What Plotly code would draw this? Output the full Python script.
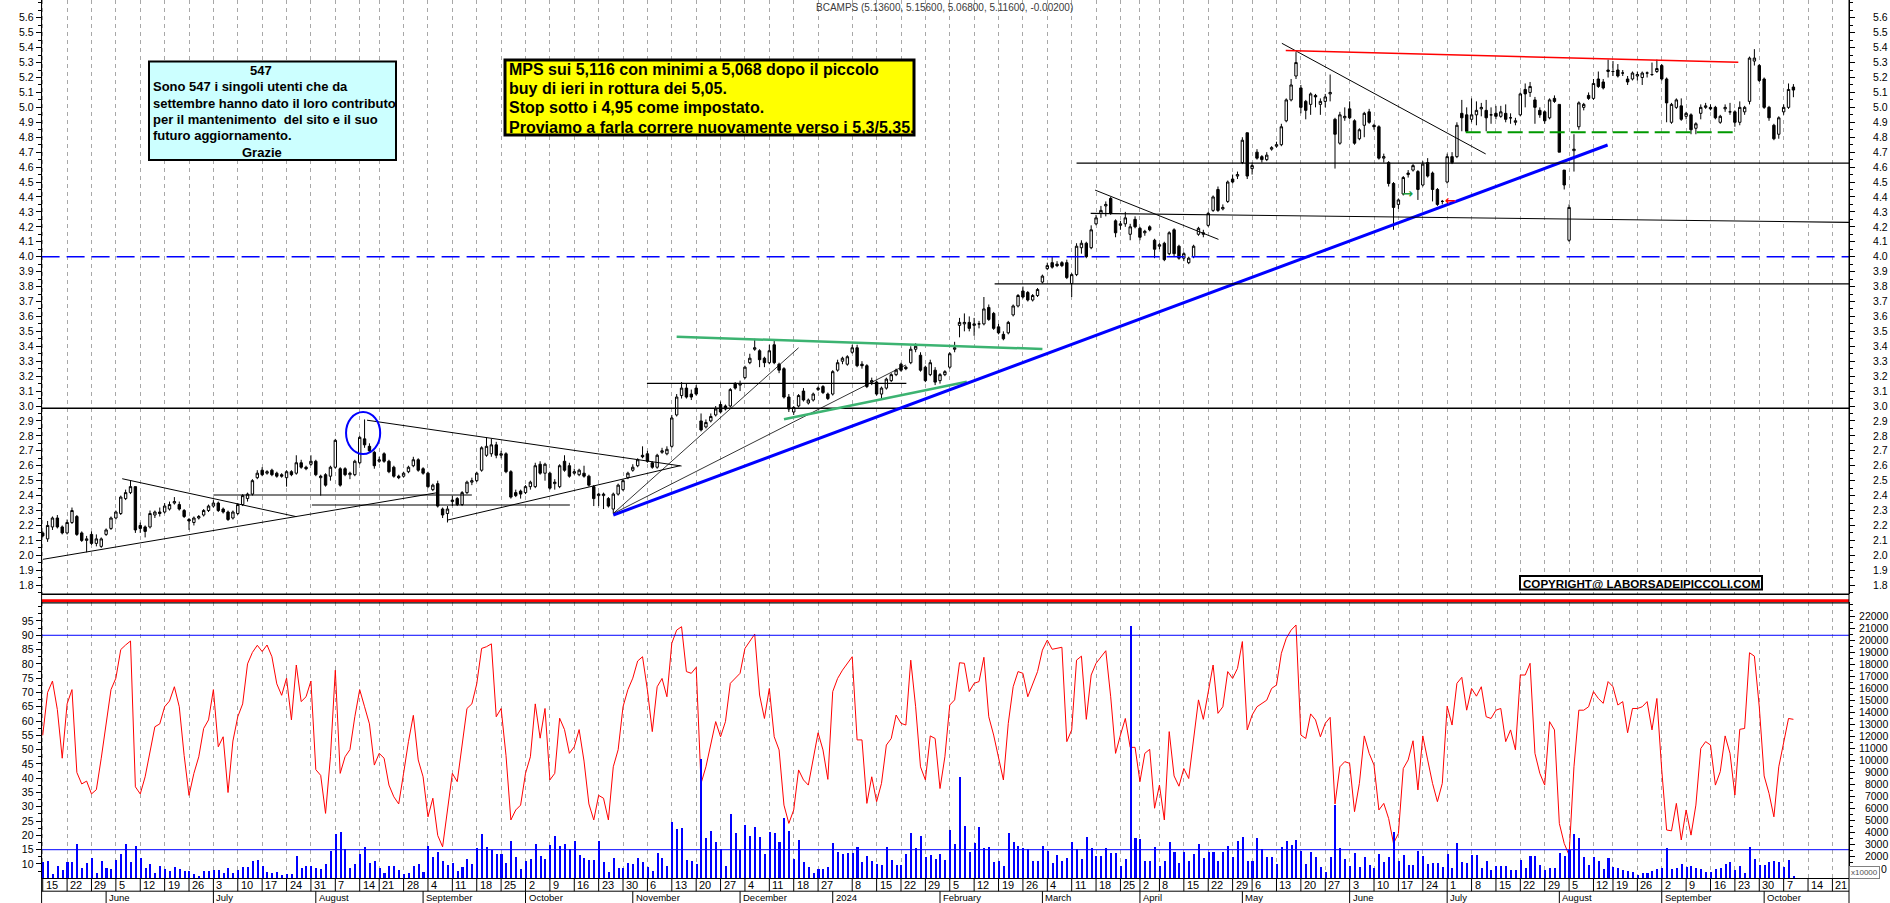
import plotly.graph_objects as go
import pandas as pd

W, H = 1890, 903

# ----------------------------------------------------------------- data
HOLIDAYS = ["2023-08-15", "2023-12-25", "2023-12-26", "2024-01-01",
            "2024-03-29", "2024-04-01", "2024-05-01", "2024-08-15"]

OPEN = [
 2.15, 2.11, 2.19, 2.25, 2.19, 2.15, 2.22, 2.26, 2.15, 2.10,
 2.14, 2.08, 2.06, 2.14, 2.18, 2.25, 2.28, 2.38, 2.42, 2.46,
 2.20, 2.19, 2.19, 2.27, 2.29, 2.29, 2.31, 2.35, 2.34, 2.30,
 2.24, 2.22, 2.25, 2.27, 2.30, 2.33, 2.35, 2.31, 2.29, 2.25,
 2.28, 2.34, 2.38, 2.41, 2.52, 2.57, 2.55, 2.57, 2.55, 2.54,
 2.52, 2.56, 2.55, 2.62, 2.59, 2.61, 2.63, 2.52, 2.54, 2.53,
 2.59, 2.58, 2.58, 2.54, 2.54, 2.62, 2.78, 2.73, 2.69, 2.63,
 2.68, 2.63, 2.59, 2.53, 2.53, 2.56, 2.60, 2.64, 2.58, 2.55,
 2.44, 2.48, 2.31, 2.28, 2.36, 2.38, 2.34, 2.42, 2.49, 2.50,
 2.57, 2.67, 2.68, 2.74, 2.67, 2.68, 2.56, 2.42, 2.43, 2.42,
 2.46, 2.46, 2.61, 2.55, 2.55, 2.48, 2.46, 2.63, 2.60, 2.55,
 2.54, 2.55, 2.53, 2.46, 2.40, 2.40, 2.38, 2.31, 2.41, 2.44,
 2.52, 2.57, 2.60, 2.67, 2.68, 2.62, 2.59, 2.69, 2.68, 2.73,
 2.94, 3.07, 3.12, 3.08, 3.12, 2.90, 2.86, 2.90, 2.94, 3.01,
 3.00, 3.00, 3.15, 3.14, 3.19, 3.29, 3.38, 3.37, 3.32, 3.29,
 3.41, 3.28, 3.25, 3.06, 2.96, 3.00, 3.10, 3.02, 3.04, 3.11,
 3.13, 3.08, 3.08, 3.24, 3.30, 3.28, 3.36, 3.39, 3.28, 3.27,
 3.16, 3.16, 3.08, 3.12, 3.17, 3.21, 3.28, 3.26, 3.29, 3.38,
 3.34, 3.26, 3.21, 3.24, 3.17, 3.21, 3.26, 3.38, 3.54, 3.55,
 3.56, 3.54, 3.55, 3.55, 3.66, 3.62, 3.53, 3.48, 3.49, 3.61,
 3.67, 3.77, 3.76, 3.71, 3.74, 3.83, 3.92, 3.96, 3.95, 3.96,
 3.96, 3.82, 3.88, 4.06, 4.09, 4.06, 4.22, 4.29, 4.34, 4.39,
 4.24, 4.21, 4.22, 4.15, 4.25, 4.19, 4.16, 4.20, 4.11, 4.07,
 4.09, 4.02, 4.18, 4.07, 3.99, 3.96, 4.00, 4.15, 4.15, 4.21,
 4.31, 4.45, 4.32, 4.37, 4.52, 4.54, 4.63, 4.83, 4.59, 4.70,
 4.67, 4.65, 4.72, 4.74, 4.75, 4.91, 5.05, 5.21, 5.13, 5.04,
 5.02, 5.08, 5.02, 5.04, 5.09, 4.92, 4.76, 4.93, 4.99, 4.91,
 4.79, 4.88, 4.97, 4.88, 4.87, 4.66, 4.63, 4.49, 4.35, 4.42,
 4.55, 4.58, 4.57, 4.48, 4.63, 4.56, 4.45, 4.37, 4.50, 4.67,
 4.67, 4.96, 4.95, 4.92, 4.95, 4.99, 4.98, 4.95, 4.96, 4.94,
 4.96, 4.93, 4.90, 4.95, 5.12, 5.10, 5.05, 4.98, 4.97, 4.93,
 5.06, 5.02, 4.58, 4.11, 4.71, 4.87, 5.00, 5.08, 5.06, 5.19,
 5.17, 5.24, 5.24, 5.25, 5.23, 5.19, 5.19, 5.21, 5.20, 5.23,
 5.22, 5.24, 5.28, 5.19, 4.90, 5.00, 5.01, 4.94, 4.95, 4.86,
 4.96, 5.00, 5.00, 5.00, 4.90, 4.99, 4.97, 4.97, 4.90, 4.97,
 5.04, 5.31, 5.28, 5.19, 5.00, 4.88, 4.82, 4.97, 5.00, 5.136,
]

HIGH = [
 2.16, 2.23, 2.26, 2.27, 2.20, 2.24, 2.32, 2.27, 2.16, 2.13,
 2.16, 2.14, 2.12, 2.18, 2.26, 2.30, 2.40, 2.44, 2.50, 2.46,
 2.22, 2.20, 2.30, 2.30, 2.32, 2.35, 2.36, 2.39, 2.36, 2.31,
 2.25, 2.26, 2.27, 2.31, 2.34, 2.37, 2.36, 2.32, 2.30, 2.30,
 2.35, 2.41, 2.42, 2.51, 2.57, 2.59, 2.57, 2.58, 2.56, 2.55,
 2.57, 2.57, 2.67, 2.64, 2.60, 2.67, 2.64, 2.54, 2.55, 2.60,
 2.78, 2.59, 2.59, 2.56, 2.64, 2.80, 2.91, 2.75, 2.70, 2.66,
 2.69, 2.64, 2.60, 2.54, 2.56, 2.60, 2.66, 2.65, 2.59, 2.56,
 2.48, 2.50, 2.32, 2.33, 2.40, 2.39, 2.43, 2.50, 2.52, 2.56,
 2.73, 2.79, 2.78, 2.76, 2.70, 2.69, 2.57, 2.44, 2.44, 2.47,
 2.50, 2.62, 2.63, 2.62, 2.56, 2.51, 2.61, 2.67, 2.62, 2.58,
 2.58, 2.60, 2.54, 2.47, 2.42, 2.42, 2.39, 2.42, 2.48, 2.51,
 2.56, 2.61, 2.65, 2.73, 2.70, 2.63, 2.68, 2.72, 2.73, 2.94,
 3.08, 3.16, 3.15, 3.11, 3.14, 2.95, 2.91, 2.95, 3.00, 3.03,
 3.01, 3.12, 3.16, 3.17, 3.27, 3.35, 3.45, 3.38, 3.33, 3.41,
 3.44, 3.29, 3.26, 3.08, 3.00, 3.08, 3.12, 3.05, 3.09, 3.13,
 3.14, 3.09, 3.24, 3.31, 3.33, 3.34, 3.41, 3.41, 3.30, 3.28,
 3.19, 3.17, 3.13, 3.19, 3.22, 3.25, 3.29, 3.27, 3.40, 3.42,
 3.36, 3.27, 3.31, 3.26, 3.22, 3.24, 3.36, 3.43, 3.59, 3.62,
 3.60, 3.59, 3.57, 3.73, 3.68, 3.63, 3.55, 3.50, 3.57, 3.68,
 3.75, 3.80, 3.77, 3.75, 3.79, 3.88, 3.96, 4.00, 3.97, 3.97,
 3.98, 3.89, 4.09, 4.11, 4.10, 4.21, 4.28, 4.34, 4.37, 4.40,
 4.25, 4.24, 4.30, 4.22, 4.27, 4.20, 4.18, 4.21, 4.12, 4.09,
 4.10, 4.17, 4.19, 4.08, 4.03, 4.00, 4.08, 4.20, 4.18, 4.30,
 4.41, 4.47, 4.35, 4.51, 4.55, 4.57, 4.80, 4.83, 4.63, 4.72,
 4.68, 4.70, 4.74, 4.77, 4.89, 5.06, 5.19, 5.37, 5.15, 5.05,
 5.10, 5.09, 5.06, 5.09, 5.22, 4.93, 4.97, 5.00, 5.04, 4.92,
 4.86, 4.97, 4.99, 4.89, 4.88, 4.69, 4.64, 4.50, 4.39, 4.54,
 4.58, 4.62, 4.58, 4.64, 4.66, 4.57, 4.46, 4.38, 4.69, 4.70,
 4.90, 5.05, 5.00, 5.06, 5.04, 5.03, 5.05, 5.00, 5.01, 5.01,
 5.02, 4.96, 4.93, 5.10, 5.16, 5.17, 5.07, 5.00, 4.98, 5.06,
 5.08, 5.02, 4.58, 4.35, 4.82, 5.04, 5.03, 5.10, 5.19, 5.24,
 5.19, 5.32, 5.31, 5.29, 5.25, 5.21, 5.24, 5.24, 5.24, 5.24,
 5.30, 5.32, 5.29, 5.20, 5.03, 5.06, 5.06, 4.97, 4.96, 4.90,
 5.02, 5.03, 5.02, 5.01, 4.95, 5.02, 5.03, 4.98, 5.04, 5.01,
 5.34, 5.39, 5.29, 5.20, 5.01, 4.89, 4.94, 5.02, 5.16, 5.156,
]

LOW = [
 2.12, 2.09, 2.17, 2.18, 2.14, 2.14, 2.21, 2.13, 2.09, 2.02,
 2.07, 2.06, 2.05, 2.13, 2.17, 2.24, 2.27, 2.37, 2.41, 2.15,
 2.15, 2.12, 2.18, 2.25, 2.26, 2.28, 2.30, 2.34, 2.30, 2.25,
 2.17, 2.20, 2.24, 2.26, 2.29, 2.32, 2.29, 2.28, 2.23, 2.24,
 2.27, 2.33, 2.36, 2.40, 2.51, 2.53, 2.54, 2.53, 2.52, 2.52,
 2.46, 2.53, 2.54, 2.58, 2.57, 2.60, 2.53, 2.40, 2.46, 2.50,
 2.58, 2.46, 2.53, 2.51, 2.53, 2.61, 2.72, 2.69, 2.58, 2.62,
 2.62, 2.55, 2.52, 2.51, 2.52, 2.55, 2.59, 2.56, 2.54, 2.45,
 2.43, 2.32, 2.25, 2.22, 2.33, 2.33, 2.33, 2.41, 2.47, 2.49,
 2.56, 2.66, 2.66, 2.65, 2.65, 2.55, 2.38, 2.39, 2.38, 2.41,
 2.44, 2.45, 2.54, 2.50, 2.44, 2.44, 2.45, 2.56, 2.52, 2.54,
 2.53, 2.52, 2.46, 2.33, 2.33, 2.31, 2.32, 2.28, 2.40, 2.43,
 2.51, 2.56, 2.59, 2.65, 2.62, 2.58, 2.58, 2.68, 2.67, 2.72,
 2.93, 3.05, 3.05, 3.04, 3.07, 2.83, 2.85, 2.89, 2.93, 2.95,
 2.97, 2.99, 3.11, 3.10, 3.18, 3.28, 3.37, 3.26, 3.26, 3.28,
 3.28, 3.22, 3.05, 2.96, 2.94, 2.99, 3.03, 3.01, 3.03, 3.10,
 3.08, 3.04, 3.07, 3.23, 3.28, 3.27, 3.35, 3.26, 3.25, 3.12,
 3.14, 3.07, 3.05, 3.11, 3.16, 3.20, 3.23, 3.24, 3.28, 3.36,
 3.23, 3.16, 3.20, 3.14, 3.15, 3.20, 3.25, 3.36, 3.46, 3.50,
 3.50, 3.47, 3.52, 3.54, 3.57, 3.51, 3.48, 3.44, 3.48, 3.60,
 3.66, 3.72, 3.70, 3.70, 3.73, 3.82, 3.91, 3.92, 3.93, 3.93,
 3.85, 3.73, 3.87, 4.02, 3.99, 4.05, 4.21, 4.26, 4.27, 4.28,
 4.13, 4.18, 4.20, 4.11, 4.19, 4.11, 4.14, 4.17, 3.99, 4.05,
 3.97, 4.01, 4.00, 3.98, 3.97, 3.95, 3.99, 4.14, 4.13, 4.20,
 4.30, 4.30, 4.31, 4.36, 4.49, 4.52, 4.62, 4.52, 4.55, 4.65,
 4.63, 4.64, 4.71, 4.73, 4.74, 4.90, 5.04, 5.19, 4.96, 4.92,
 4.95, 5.00, 4.95, 5.00, 5.04, 4.59, 4.75, 4.91, 4.92, 4.75,
 4.78, 4.80, 4.89, 4.85, 4.65, 4.63, 4.47, 4.18, 4.32, 4.41,
 4.53, 4.57, 4.38, 4.47, 4.53, 4.37, 4.34, 4.35, 4.49, 4.62,
 4.66, 4.84, 4.83, 4.90, 4.88, 4.94, 4.84, 4.89, 4.92, 4.93,
 4.90, 4.89, 4.88, 4.94, 5.00, 5.07, 4.89, 4.93, 4.89, 4.92,
 5.03, 4.70, 4.45, 4.10, 4.57, 4.85, 4.98, 5.05, 5.05, 5.13,
 5.12, 5.20, 5.21, 5.20, 5.21, 5.15, 5.18, 5.18, 5.15, 5.20,
 5.21, 5.23, 5.18, 4.90, 4.89, 4.99, 4.91, 4.92, 4.82, 4.82,
 4.92, 4.99, 4.98, 4.92, 4.89, 4.97, 4.95, 4.87, 4.88, 4.95,
 5.02, 5.28, 5.17, 4.99, 4.91, 4.78, 4.79, 4.95, 4.99, 5.068,
]

CLOSE = [
 2.13, 2.20, 2.25, 2.19, 2.15, 2.22, 2.30, 2.14, 2.10, 2.11,
 2.08, 2.11, 2.11, 2.17, 2.25, 2.29, 2.39, 2.42, 2.46, 2.17,
 2.18, 2.16, 2.28, 2.29, 2.28, 2.33, 2.34, 2.36, 2.31, 2.26,
 2.23, 2.25, 2.26, 2.30, 2.33, 2.35, 2.30, 2.29, 2.24, 2.29,
 2.34, 2.40, 2.41, 2.50, 2.55, 2.54, 2.56, 2.54, 2.53, 2.53,
 2.56, 2.54, 2.62, 2.59, 2.58, 2.63, 2.54, 2.53, 2.47, 2.59,
 2.77, 2.47, 2.54, 2.55, 2.63, 2.79, 2.74, 2.70, 2.60, 2.64,
 2.63, 2.56, 2.53, 2.52, 2.55, 2.59, 2.64, 2.57, 2.55, 2.46,
 2.47, 2.33, 2.27, 2.31, 2.37, 2.34, 2.42, 2.49, 2.50, 2.55,
 2.72, 2.73, 2.74, 2.67, 2.68, 2.56, 2.39, 2.40, 2.41, 2.46,
 2.49, 2.60, 2.55, 2.61, 2.45, 2.49, 2.60, 2.57, 2.53, 2.56,
 2.57, 2.53, 2.47, 2.38, 2.41, 2.41, 2.33, 2.41, 2.47, 2.50,
 2.55, 2.59, 2.64, 2.66, 2.63, 2.59, 2.67, 2.70, 2.71, 2.92,
 3.06, 3.12, 3.06, 3.06, 3.08, 2.84, 2.89, 2.93, 2.98, 2.96,
 2.98, 3.11, 3.12, 3.15, 3.26, 3.32, 3.39, 3.31, 3.29, 3.37,
 3.29, 3.24, 3.06, 2.98, 2.99, 3.07, 3.04, 3.04, 3.08, 3.12,
 3.09, 3.05, 3.23, 3.29, 3.32, 3.33, 3.39, 3.27, 3.27, 3.13,
 3.17, 3.08, 3.12, 3.18, 3.21, 3.24, 3.24, 3.25, 3.38, 3.40,
 3.24, 3.17, 3.29, 3.16, 3.21, 3.23, 3.35, 3.39, 3.56, 3.56,
 3.52, 3.55, 3.55, 3.65, 3.58, 3.52, 3.49, 3.45, 3.56, 3.67,
 3.74, 3.73, 3.71, 3.74, 3.78, 3.87, 3.94, 3.93, 3.94, 3.94,
 3.86, 3.88, 4.07, 4.09, 4.00, 4.18, 4.26, 4.31, 4.35, 4.29,
 4.16, 4.22, 4.26, 4.20, 4.20, 4.13, 4.17, 4.18, 4.05, 4.08,
 3.98, 4.16, 4.02, 3.99, 4.02, 3.99, 4.07, 4.19, 4.16, 4.29,
 4.40, 4.31, 4.33, 4.50, 4.50, 4.55, 4.78, 4.54, 4.61, 4.66,
 4.65, 4.68, 4.73, 4.75, 4.87, 5.05, 5.15, 5.30, 5.00, 4.98,
 5.09, 5.07, 5.04, 5.07, 5.10, 4.82, 4.95, 4.94, 4.93, 4.76,
 4.85, 4.96, 4.90, 4.87, 4.66, 4.67, 4.49, 4.33, 4.38, 4.53,
 4.56, 4.61, 4.45, 4.62, 4.54, 4.45, 4.35, 4.37, 4.67, 4.63,
 4.88, 4.93, 4.84, 4.95, 4.98, 5.00, 4.93, 4.95, 4.94, 4.97,
 4.92, 4.93, 4.91, 5.09, 5.09, 5.14, 5.00, 4.95, 4.91, 5.05,
 5.04, 4.70, 4.48, 4.33, 4.72, 5.03, 5.02, 5.06, 5.16, 5.14,
 5.13, 5.25, 5.24, 5.21, 5.23, 5.17, 5.23, 5.22, 5.23, 5.23,
 5.22, 5.26, 5.19, 5.03, 5.02, 5.05, 4.92, 4.96, 4.85, 4.89,
 5.00, 5.01, 4.99, 4.93, 4.94, 5.00, 4.97, 4.90, 5.00, 5.00,
 5.33, 5.33, 5.18, 5.00, 4.93, 4.79, 4.93, 5.00, 5.12, 5.116,
]

OSC = [
 55, 70, 74, 64, 47, 66, 71, 42, 38, 39,
 34.5, 36, 47, 59, 71, 75, 85, 86.6, 88, 37,
 34.5, 40.5, 50, 58, 59, 65, 67, 72, 65, 48,
 34, 41.7, 47.5, 57.4, 60.4, 71, 51, 54.5, 35, 53,
 61.5, 66, 80, 84, 86.5, 84.3, 86.6, 82.5, 73, 69,
 75, 60.4, 79.6, 66.8, 68.5, 74, 43, 41, 27.7, 47.5,
 77.8, 41.7, 47.5, 50, 61.5, 71, 65, 59, 44.6, 48.7,
 47, 37.6, 33.5, 31, 41.7, 52.8, 62, 46.4, 40.5, 26.5,
 33, 20, 16, 29, 41.7, 38.8, 52, 64.4, 66, 73,
 85.4, 86, 87, 61.5, 64.4, 48, 25.4, 28.9, 30.6, 41.7,
 47.5, 66, 54, 64.4, 39.4, 41.7, 61, 57, 48.7, 51,
 57, 46, 31, 25.4, 34, 33, 25.4, 44, 50, 65,
 71, 75, 81, 82.5, 70.9, 56.3, 72, 74.9, 68.5, 87.2,
 91.8, 93, 77.3, 76.7, 78.8, 38.2, 44, 51.6, 59.8, 54.5,
 59.8, 73.2, 74.9, 76.7, 85.4, 87.8, 90.4, 69.1, 60.9, 71.4,
 54.5, 49.9, 30.6, 24.2, 28.9, 42.9, 39.4, 37.6, 46.4, 55.9,
 49.9, 39.6, 70.3, 74.9, 77.8, 80, 82.5, 53.4, 53.4, 31.2,
 40.5, 31.8, 38.2, 51.6, 53.9, 62.1, 59.2, 58.6, 81.3, 65,
 44, 39.4, 54.8, 53.9, 36.4, 47.5, 65.6, 67.4, 80.4, 80.2,
 70.3, 73.2, 73.8, 82.3, 61.5, 55.1, 47.5, 39.4, 59.2, 72,
 77.3, 76.7, 68.5, 73.2, 77.3, 84.8, 88.3, 85.1, 85.4, 85.8,
 52.8, 56.9, 81.3, 82.7, 60.6, 76.1, 80.2, 82.5, 84.6, 68.5,
 48.7, 55.1, 60.9, 50.8, 50.8, 38.8, 48.7, 50.1, 29.5, 37.6,
 25.4, 56.3, 40.8, 37.2, 43.4, 39.9, 52.8, 67.4, 60.6, 69.7,
 79.6, 62.7, 65, 77.3, 74.9, 78.4, 87.8, 56.9, 62.1, 65,
 66, 67.3, 71.4, 72.6, 83.7, 88.9, 91.8, 93.6, 55.1, 53.9,
 62.5, 60.4, 54.5, 59.2, 61.3, 31, 44, 45.8, 45.2, 28.3,
 38.2, 54.8, 48.7, 44.6, 28.9, 31.2, 25.9, 17.2, 20.7, 43.4,
 46.4, 53.1, 35.9, 54.8, 46.4, 38.2, 31.8, 38.2, 65.2, 58.6,
 73.2, 75.3, 63.8, 71.4, 68.7, 72, 61.5, 60.9, 63.8, 64.4,
 52.8, 56.9, 49.9, 76.1, 76.1, 80.2, 48.7, 41.7, 37.6, 59.8,
 56.9, 24.2, 17.2, 13.1, 44, 63.8, 63.8, 65, 70.3, 67.9,
 66.2, 73.8, 72, 65.6, 66.8, 55.9, 64.4, 64.4, 65, 66.8,
 56.9, 67.9, 42.9, 21.9, 21.6, 31.2, 18.4, 28.9, 20.1, 30.6,
 50.4, 52.8, 51.6, 37.6, 42.3, 54.8, 48.7, 34.1, 57.1, 57.4,
 83.9, 82.7, 65, 40.8, 34.7, 26.5, 44, 52.2, 60.9, 60.6,
]

VOLUME = [
 1500, 1611, 500, 1167, 833, 1528, 1472, 2972, 1028, 1444,
 1806, 611, 1583, 972, 944, 1667, 2139, 3000, 1528, 2833,
 1861, 1028, 1306, 611, 1167, 889, 750, 1111, 917, 750,
 750, 472, 361, 750, 750, 833, 833, 611, 972, 611,
 833, 1111, 1111, 1611, 1667, 1167, 694, 611, 694, 417,
 472, 472, 2000, 1028, 1167, 1167, 1028, 889, 1306, 2444,
 3806, 4028, 2556, 1028, 1333, 2167, 2722, 1389, 1611, 1028,
 611, 1167, 1167, 833, 500, 611, 1167, 1333, 694, 2861,
 1944, 2361, 1583, 1250, 1389, 750, 1056, 1722, 1306, 2639,
 3806, 2722, 2500, 2139, 2139, 1389, 3250, 1889, 917, 1583,
 1722, 2972, 2000, 1722, 2889, 3694, 2833, 2972, 2556, 3250,
 2083, 1861, 1667, 1667, 3250, 1528, 639, 1806, 1028, 1028,
 1389, 1306, 1806, 1472, 1111, 750, 2222, 1861, 1167, 4861,
 4250, 4306, 1667, 1583, 1306, 10056, 3472, 4111, 3139, 2583,
 1194, 5500, 3889, 2500, 4583, 3667, 4389, 3556, 2139, 4028,
 3944, 3139, 5139, 4111, 1722, 3361, 1472, 1111, 611, 917,
 917, 1111, 3111, 2306, 2167, 2222, 2222, 2722, 1472, 2000,
 1583, 1306, 1250, 2778, 1667, 1250, 1250, 2167, 3889, 2639,
 3667, 1889, 2083, 1722, 2139, 1667, 4167, 2972, 8556, 4472,
 2361, 3056, 4389, 2694, 2722, 1528, 1583, 1167, 3889, 3194,
 2833, 2639, 2556, 1583, 1611, 2833, 2444, 1444, 2083, 1583,
 1861, 3139, 2556, 1722, 3611, 2694, 2028, 2028, 2694, 2222,
 2222, 1167, 1722, 21167, 3472, 3389, 1583, 1583, 2722, 1167,
 1583, 3194, 2361, 1389, 2361, 1583, 2167, 2972, 1806, 2361,
 2361, 1583, 2361, 2833, 1944, 3250, 3611, 1611, 1611, 3472,
 2556, 1944, 1889, 1306, 2722, 3278, 2917, 3333, 2417, 1333,
 2306, 1889, 1111, 639, 1944, 6250, 2639, 1722, 1167, 2222,
 1056, 1944, 1250, 972, 2139, 1528, 1944, 3972, 1583, 2083,
 1250, 1250, 2417, 2000, 1333, 1389, 1389, 1111, 2139, 1028,
 3056, 1528, 1389, 2056, 2056, 972, 1583, 833, 1167, 1167,
 1167, 833, 833, 1667, 972, 2000, 2000, 1250, 833, 1028,
 1028, 2222, 2000, 2500, 3833, 3472, 1944, 1250, 1889, 1611,
 917, 1806, 1111, 1028, 833, 750, 694, 417, 611, 611,
 778, 917, 972, 2694, 917, 972, 1333, 1111, 1167, 972,
 889, 694, 694, 889, 972, 1333, 1472, 833, 1194, 611,
 2722, 1750, 1250, 1250, 1528, 1583, 1528, 1111, 1667, 361,
]

PRICE_TICKS = [1.8, 1.9, 2.0, 2.1, 2.2, 2.3, 2.4, 2.5, 2.6, 2.7, 2.8, 2.9,
               3.0, 3.1, 3.2, 3.3, 3.4, 3.5, 3.6, 3.7, 3.8, 3.9, 4.0, 4.1,
               4.2, 4.3, 4.4, 4.5, 4.6, 4.7, 4.8, 4.9, 5.0, 5.1, 5.2, 5.3,
               5.4, 5.5, 5.6]
OSC_TICKS = [10, 15, 20, 25, 30, 35, 40, 45, 50, 55, 60, 65, 70, 75, 80, 85, 90, 95]
VOL_TICKS = [1000, 2000, 3000, 4000, 5000, 6000, 7000, 8000, 9000, 10000, 11000,
             12000, 13000, 14000, 15000, 16000, 17000, 18000, 19000, 20000,
             21000, 22000]

TITLE = "BCAMPS (5.13600, 5.15600, 5.06800, 5.11600, -0.00200)"
NOTE_CYAN_HEAD = "547"
NOTE_CYAN = ["Sono 547 i singoli utenti che da",
             "settembre hanno dato il loro contributo",
             "per il mantenimento  del sito e il suo",
             "futuro aggiornamento."]
NOTE_CYAN_TAIL = "Grazie"
NOTE_YELLOW = ["MPS sui 5,116 con minimi a 5,068 dopo il piccolo",
               "buy di ieri in rottura dei 5,05.",
               "Stop sotto i 4,95 come impostato.",
               "Proviamo a farla correre nuovamente verso i 5,3/5,35."]
COPYRIGHT = "COPYRIGHT@ LABORSADEIPICCOLI.COM"

# drawn analysis lines (day index, price)
TRENDLINES = [
    (0, 1.973, 81, 2.42, "black", 1),
    (16.3, 2.513, 52, 2.259, "black", 1),
    (35, 2.404, 88, 2.404, "black", 1.2),
    (55.2, 2.337, 108.1, 2.337, "black", 1.2),
    (66.5, 2.905, 131, 2.598, "black", 1),
    (83, 2.236, 130.7, 2.60, "black", 1),
    (117, 2.28, 155, 3.39, "black", 0.8),
    (117, 2.28, 177, 3.275, "black", 0.8),
    (123.9, 3.152, 177.1, 3.152, "black", 1.2),
    (130, 3.464, 205, 3.382, "#3cb371", 2.5),
    (152, 2.911, 189.5, 3.163, "#3cb371", 2.5),
    (117, 2.270, 320.9, 4.748, "#0000ff", 3),
    (195.2, 3.818, 370.4, 3.818, "black", 1.2),
    (212, 4.626, 370.4, 4.626, "black", 1.2),
    (214.9, 4.29, 370.4, 4.23, "black", 1.2),
    (215.8, 4.446, 241.1, 4.116, "black", 1),
    (254.1, 5.429, 295.9, 4.688, "black", 1),
    (254.9, 5.38, 347.7, 5.302, "#ff0000", 1.5),
]
GREEN_DASH = (291.8, 4.833, 346.7, 4.833)
LEVEL_DASH = 4.0
LEVEL_SOLID = 2.985
OSC_LEVELS = [90, 15]

# ----------------------------------------------------------------- layout helpers
all_days = pd.bdate_range("2023-05-15", "2024-10-25")
days = [d for d in all_days if d.strftime("%Y-%m-%d") not in HOLIDAYS]
n = len(CLOSE)
X = list(range(n))

XR = [-0.23, 370.4]
XD = [41.6 / W, 1849 / W]


def py(ypx):
    return 1 - ypx / H


def pxx(xpx):
    return xpx / W


week_starts, month_starts = [], []
for i, d in enumerate(days):
    if i > XR[1]:
        break
    if i == 0 or d.isocalendar()[1] != days[i - 1].isocalendar()[1]:
        if d.strftime("%Y-%m-%d") != "2024-01-02":
            week_starts.append(i)
    if i > 0 and d.month != days[i - 1].month:
        month_starts.append(i)

fig = go.Figure()
fig.add_trace(go.Candlestick(
    x=X, open=OPEN, high=HIGH, low=LOW, close=CLOSE, xaxis="x", yaxis="y",
    increasing=dict(line=dict(color="black", width=1), fillcolor="white"),
    decreasing=dict(line=dict(color="black", width=1), fillcolor="black"),
    whiskerwidth=0, hoverinfo="skip", showlegend=False))
fig.add_trace(go.Scatter(x=[0], y=[4.0], xaxis="x", yaxis="y4", mode="markers",
                         marker=dict(opacity=0), hoverinfo="skip", showlegend=False))
fig.add_trace(go.Scatter(x=X, y=OSC, xaxis="x2", yaxis="y2", mode="lines",
                         line=dict(color="#ff0000", width=1), hoverinfo="skip",
                         showlegend=False))
fig.add_trace(go.Bar(x=X, y=VOLUME, xaxis="x2", yaxis="y3", width=0.42,
                     marker=dict(color="#0000ff", line=dict(width=0)),
                     hoverinfo="skip", showlegend=False))

FONT = "Liberation Sans, Arial, sans-serif"
NARROW = "Liberation Sans Narrow, Arial Narrow, Liberation Sans, sans-serif"
tickfont = dict(family=FONT, size=10.5, color="black")

xcommon = dict(domain=XD, range=XR, tickmode="array", tickvals=week_starts,
               showticklabels=False, ticks="", showgrid=True, gridcolor="#a8a8a8",
               griddash="4px,4px", gridwidth=1, zeroline=False, fixedrange=True)

fs = "\u2007"
vol_text = [(fs * (5 - len(str(v)))) + str(v) for v in VOL_TICKS]
vol_text[0] = ""   # the "1000" label is hidden behind the x10000 box

fig.update_layout(
    width=W, height=H, margin=dict(l=0, r=0, t=0, b=0, pad=0),
    paper_bgcolor="white", plot_bgcolor="white", showlegend=False,
    font=dict(family=FONT, size=11, color="black"), bargap=0,
    xaxis=dict(**xcommon, anchor="y", showline=False, rangeslider=dict(visible=False)),
    xaxis2=dict(**xcommon, anchor="y2", matches="x", showline=True,
                linecolor="black", linewidth=1),
    yaxis=dict(domain=[py(594), 1], range=[1.741, 5.719], tickmode="array",
               tickvals=PRICE_TICKS, ticktext=[f"{v:.1f}" for v in PRICE_TICKS],
               ticks="outside", ticklen=5, tickcolor="black", tickfont=tickfont,
               showline=True, linecolor="black", linewidth=1, showgrid=False,
               zeroline=False, fixedrange=True,
               minor=dict(tickmode="linear", tick0=0, dtick=0.05, ticks="outside",
                          ticklen=3, tickcolor="black")),
    yaxis4=dict(overlaying="y", side="right", anchor="x", range=[1.741, 5.719],
                tickmode="array", tickvals=PRICE_TICKS,
                ticktext=[f"{v:.1f}" for v in PRICE_TICKS], ticks="outside",
                ticklen=5, tickcolor="black", tickfont=tickfont,
                ticklabelstandoff=16, showline=True, linecolor="black",
                linewidth=1, showgrid=False, zeroline=False, fixedrange=True,
                minor=dict(tickmode="linear", tick0=0, dtick=0.05, ticks="outside",
                           ticklen=3, tickcolor="black")),
    yaxis2=dict(domain=[py(878), py(602)], range=[5.10, 101.64], tickmode="array",
                tickvals=OSC_TICKS, ticktext=[str(v) for v in OSC_TICKS],
                ticks="outside", ticklen=5, tickcolor="black", tickfont=tickfont,
                showline=True, linecolor="black", linewidth=1, showgrid=False,
                zeroline=False, fixedrange=True,
                minor=dict(tickmode="linear", tick0=0, dtick=2.5, ticks="outside",
                           ticklen=3, tickcolor="black")),
    yaxis3=dict(overlaying="y2", side="right", anchor="x2", range=[167, 23167],
                tickmode="array", tickvals=VOL_TICKS, ticktext=vol_text,
                ticks="outside", ticklen=5, tickcolor="black", tickfont=tickfont,
                ticklabelstandoff=2, showline=True, linecolor="black",
                linewidth=1, showgrid=False, zeroline=False, fixedrange=True,
                minor=dict(tickmode="linear", tick0=0, dtick=500, ticks="outside",
                           ticklen=3, tickcolor="black")),
)

shapes = []
# price panel levels
shapes.append(dict(type="line", xref="paper", yref="y", x0=XD[0], x1=XD[1],
                   y0=LEVEL_SOLID, y1=LEVEL_SOLID, line=dict(color="black", width=1.3)))
shapes.append(dict(type="line", xref="paper", yref="y", x0=XD[0], x1=XD[1],
                   y0=LEVEL_DASH, y1=LEVEL_DASH,
                   line=dict(color="#0000ff", width=1.6, dash="18px,7px")))
for x0, y0, x1, y1, col, wd in TRENDLINES:
    shapes.append(dict(type="line", xref="x", yref="y", x0=x0, y0=y0, x1=x1, y1=y1,
                       line=dict(color=col, width=wd)))
gx0, gy0, gx1, gy1 = GREEN_DASH
shapes.append(dict(type="line", xref="x", yref="y", x0=gx0, y0=gy0, x1=gx1, y1=gy1,
                   line=dict(color="#009900", width=2, dash="15px,6px")))
shapes.append(dict(type="circle", xref="x", yref="y", x0=62.2, x1=69.2,
                   y0=2.678, y1=2.960, line=dict(color="#0000ff", width=2)))
# oscillator levels
for lv in OSC_LEVELS:
    shapes.append(dict(type="line", xref="paper", yref="y2", x0=XD[0], x1=XD[1],
                       y0=lv, y1=lv, line=dict(color="#0000ff", width=1)))
# panel separators
shapes.append(dict(type="line", xref="paper", yref="paper", x0=XD[0], x1=XD[1],
                   y0=py(594.3), y1=py(594.3), line=dict(color="black", width=1.5)))
shapes.append(dict(type="line", xref="paper", yref="paper", x0=XD[0], x1=XD[1],
                   y0=py(600.6), y1=py(600.6), line=dict(color="#ff0000", width=2.6)))
shapes.append(dict(type="line", xref="paper", yref="paper", x0=XD[0], x1=XD[1],
                   y0=py(602.8), y1=py(602.8), line=dict(color="black", width=1.3)))
# full height side lines
for xp in XD:
    shapes.append(dict(type="line", xref="paper", yref="paper", x0=xp, x1=xp,
                       y0=0, y1=1, line=dict(color="black", width=1)))
# date area
shapes.append(dict(type="line", xref="paper", yref="paper", x0=XD[0], x1=XD[1],
                   y0=py(891.2), y1=py(891.2), line=dict(color="black", width=1)))
for i in week_starts:
    shapes.append(dict(type="line", xref="x2", yref="paper", x0=i, x1=i,
                       y0=py(878), y1=py(891.2), line=dict(color="black", width=1)))
for i in month_starts:
    shapes.append(dict(type="line", xref="x2", yref="paper", x0=i, x1=i,
                       y0=py(891.2), y1=0, line=dict(color="black", width=1)))
# note boxes
shapes.append(dict(type="rect", xref="paper", yref="paper", x0=pxx(149), x1=pxx(396),
                   y0=py(61.5), y1=py(160), fillcolor="#ccffff",
                   line=dict(color="black", width=2), layer="above"))
shapes.append(dict(type="rect", xref="paper", yref="paper", x0=pxx(505), x1=pxx(914),
                   y0=py(60), y1=py(135), fillcolor="#ffff00",
                   line=dict(color="black", width=3), layer="above"))
shapes.append(dict(type="rect", xref="paper", yref="paper", x0=pxx(1520), x1=pxx(1762),
                   y0=py(576), y1=py(589.5), fillcolor="white",
                   line=dict(color="black", width=2), layer="above"))
fig.update_layout(shapes=shapes)

ann = []


def txt(x, y, text, size, anchor="left", family=FONT, color="black", bold=False):
    t = f"<b>{text}</b>" if bold else text
    ann.append(dict(x=pxx(x), y=py(y), xref="paper", yref="paper", text=t,
                    showarrow=False, xanchor=anchor, yanchor="middle",
                    font=dict(family=family, size=size, color=color)))


txt(944, 8, TITLE, 10, anchor="center", color="#3a3a3a")
txt(261, 70, NOTE_CYAN_HEAD, 13, anchor="center", family=NARROW, bold=True)
for k, line in enumerate(NOTE_CYAN):
    txt(151, [86.7, 103.3, 119.3, 135.3][k], line, 13, family=NARROW, bold=True)
txt(262, 152, NOTE_CYAN_TAIL, 13, anchor="center", family=NARROW, bold=True)
for k, line in enumerate(NOTE_YELLOW):
    txt(507, [69.5, 88.5, 107.5, 127][k], line, 16, family=NARROW, bold=True)
txt(1641, 583, COPYRIGHT, 11.6, anchor="center", family=NARROW, bold=True)

# arrows
ann.append(dict(x=279.8, y=4.425, xref="x", yref="y", text="<b>\u2192</b>",
                showarrow=False, font=dict(size=13, color="#20a040", family="DejaVu Sans")))
ann.append(dict(x=288.6, y=4.375, xref="x", yref="y", text="<b>\u2190</b>",
                showarrow=False, font=dict(size=13, color="#ff0000", family="DejaVu Sans")))

# day labels and month labels
for i in week_starts:
    ann.append(dict(x=i, y=py(884.8), xref="x2", yref="paper", text=str(days[i].day),
                    showarrow=False, xanchor="left", yanchor="middle", xshift=1,
                    font=dict(family=FONT, size=11, color="black")))
for i in month_starts:
    d = days[i]
    label = str(d.year) if d.month == 1 else d.strftime("%B")
    ann.append(dict(x=i, y=py(897.2), xref="x2", yref="paper", text=label,
                    showarrow=False, xanchor="left", yanchor="middle", xshift=1,
                    font=dict(family=FONT, size=9.5, color="black")))
# volume multiplier box and the visible tail of its tick label
ann.append(dict(x=pxx(1864), y=py(872), xref="paper", yref="paper", text="x10000",
                showarrow=False, xanchor="center", yanchor="middle", bgcolor="white",
                bordercolor="#808080", borderwidth=1, borderpad=1,
                font=dict(family=FONT, size=8, color="#505050")))
ann.append(dict(x=pxx(1879), y=py(869), xref="paper", yref="paper", text="0",
                showarrow=False, xanchor="left", yanchor="middle",
                font=dict(family=FONT, size=10.5, color="black")))
fig.update_layout(annotations=ann)

fig.write_html("out.html", include_plotlyjs=True, full_html=True,
               config={"displayModeBar": False},
               post_script="document.body.style.margin='0';document.body.style.padding='0';")
